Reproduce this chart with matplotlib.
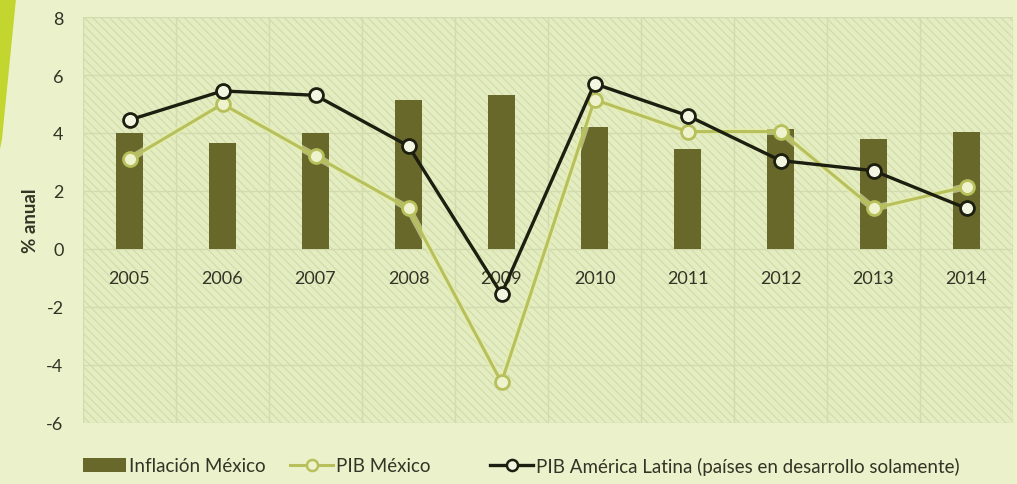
import matplotlib
matplotlib.use("Agg")
import matplotlib.pyplot as plt
from matplotlib.patches import Rectangle, Polygon
from matplotlib.lines import Line2D
from matplotlib.patches import Patch
import numpy as np

years = ["2005", "2006", "2007", "2008", "2009", "2010", "2011", "2012", "2013", "2014"]
inflacion_mexico = [4.0, 3.65, 4.0, 5.15, 5.3, 4.2, 3.45, 4.15, 3.8, 4.05]
pib_mexico = [3.1, 5.0, 3.2, 1.4, -4.6, 5.15, 4.05, 4.05, 1.4, 2.15]
pib_america_latina = [4.45, 5.45, 5.3, 3.55, -1.55, 5.7, 4.6, 3.05, 2.7, 1.4]
yticks = [-6, -4, -2, 0, 2, 4, 6, 8]

bg = "#ebf2cb"
txt = "#333326"
plt.rcParams['font.family'] = ['Lato', 'DejaVu Sans']
fig = plt.figure(figsize=(10.17, 4.85), dpi=100, facecolor=bg)
ax = fig.add_axes([83/1017, 1-424/485, 930/1017, (424-18)/485])
ax.set_facecolor("#e4ecc2")

# decorative left stripe
fig.patches.append(Polygon([[0, 1], [16/1017, 1], [2/1017, 1-140/485], [0, 1-150/485]],
                           closed=True, transform=fig.transFigure, facecolor="#c3d630",
                           edgecolor="none", zorder=0))

x = np.arange(len(years))
ax.set_xlim(-0.5, len(years) - 0.5)
ax.set_ylim(-6, 8)

# hatched plot background
plt.rcParams['hatch.color'] = "#d1dba6"
plt.rcParams['hatch.linewidth'] = 0.8
ax.add_patch(Rectangle((0, 0), 1, 1, transform=ax.transAxes, facecolor="#e4ecc2",
                       edgecolor="#d1dba6", hatch="\\\\\\\\", linewidth=0, zorder=0))

# grid
for b in np.arange(-0.5, len(years), 1):
    ax.axvline(b, color="#d2dbae", lw=1.0, zorder=1)
for t in yticks:
    ax.axhline(t, color="#d2dbae", lw=1.0, zorder=1)

ax.bar(x, inflacion_mexico, width=0.29, color="#67682a", zorder=2)

ax.plot(x, pib_mexico, color="#e6efb0", lw=5, alpha=0.6, zorder=3, solid_capstyle="round")
ax.plot(x, pib_mexico, color="#b7c05a", lw=2.2, marker="o", markersize=10,
        markerfacecolor="#eef3cd", markeredgecolor="#b7c05a", markeredgewidth=2, zorder=4)
ax.plot(x, pib_america_latina, color="#1c1e10", lw=2.4, marker="o", markersize=10,
        markerfacecolor="#f3f6e0", markeredgecolor="#1c1e10", markeredgewidth=2, zorder=5)

for s in ax.spines.values():
    s.set_visible(False)
ax.spines['bottom'].set_position(('data', 0))
ax.set_xticks(x)
ax.set_xticklabels(years, fontsize=13, color=txt)
ax.tick_params(axis='x', length=0, pad=15)
ax.set_yticks(yticks)
ax.set_yticklabels([str(t) for t in yticks], fontsize=13, color=txt)
ax.tick_params(axis='y', length=0, pad=14)
ax.set_ylabel("% anual", fontsize=13.5, fontweight="bold", color=txt, labelpad=5)

handles = [Patch(facecolor="#67682a", edgecolor="none"),
           Line2D([], [], color="#b7c05a", lw=2.2, marker="o", markersize=8,
                  markerfacecolor="#eef3cd", markeredgecolor="#b7c05a", markeredgewidth=1.8),
           Line2D([], [], color="#1c1e10", lw=2.4, marker="o", markersize=8,
                  markerfacecolor="#f3f6e0", markeredgecolor="#1c1e10", markeredgewidth=1.8)]
labels = ["Inflación México", "PIB México", "PIB América Latina (países en desarrollo solamente)"]
starts = [83, 290, 490]
ly = 1 - 467/485
for h, l, sx in zip(handles, labels, starts):
    leg = fig.legend([h], [l], loc="center left", bbox_to_anchor=(sx/1017, ly),
                     frameon=False, fontsize=13.5, handlelength=2.3, handletextpad=0.15,
                     borderpad=0, borderaxespad=0, labelcolor=txt)

fig.savefig("out.png", dpi=100, facecolor=bg)
